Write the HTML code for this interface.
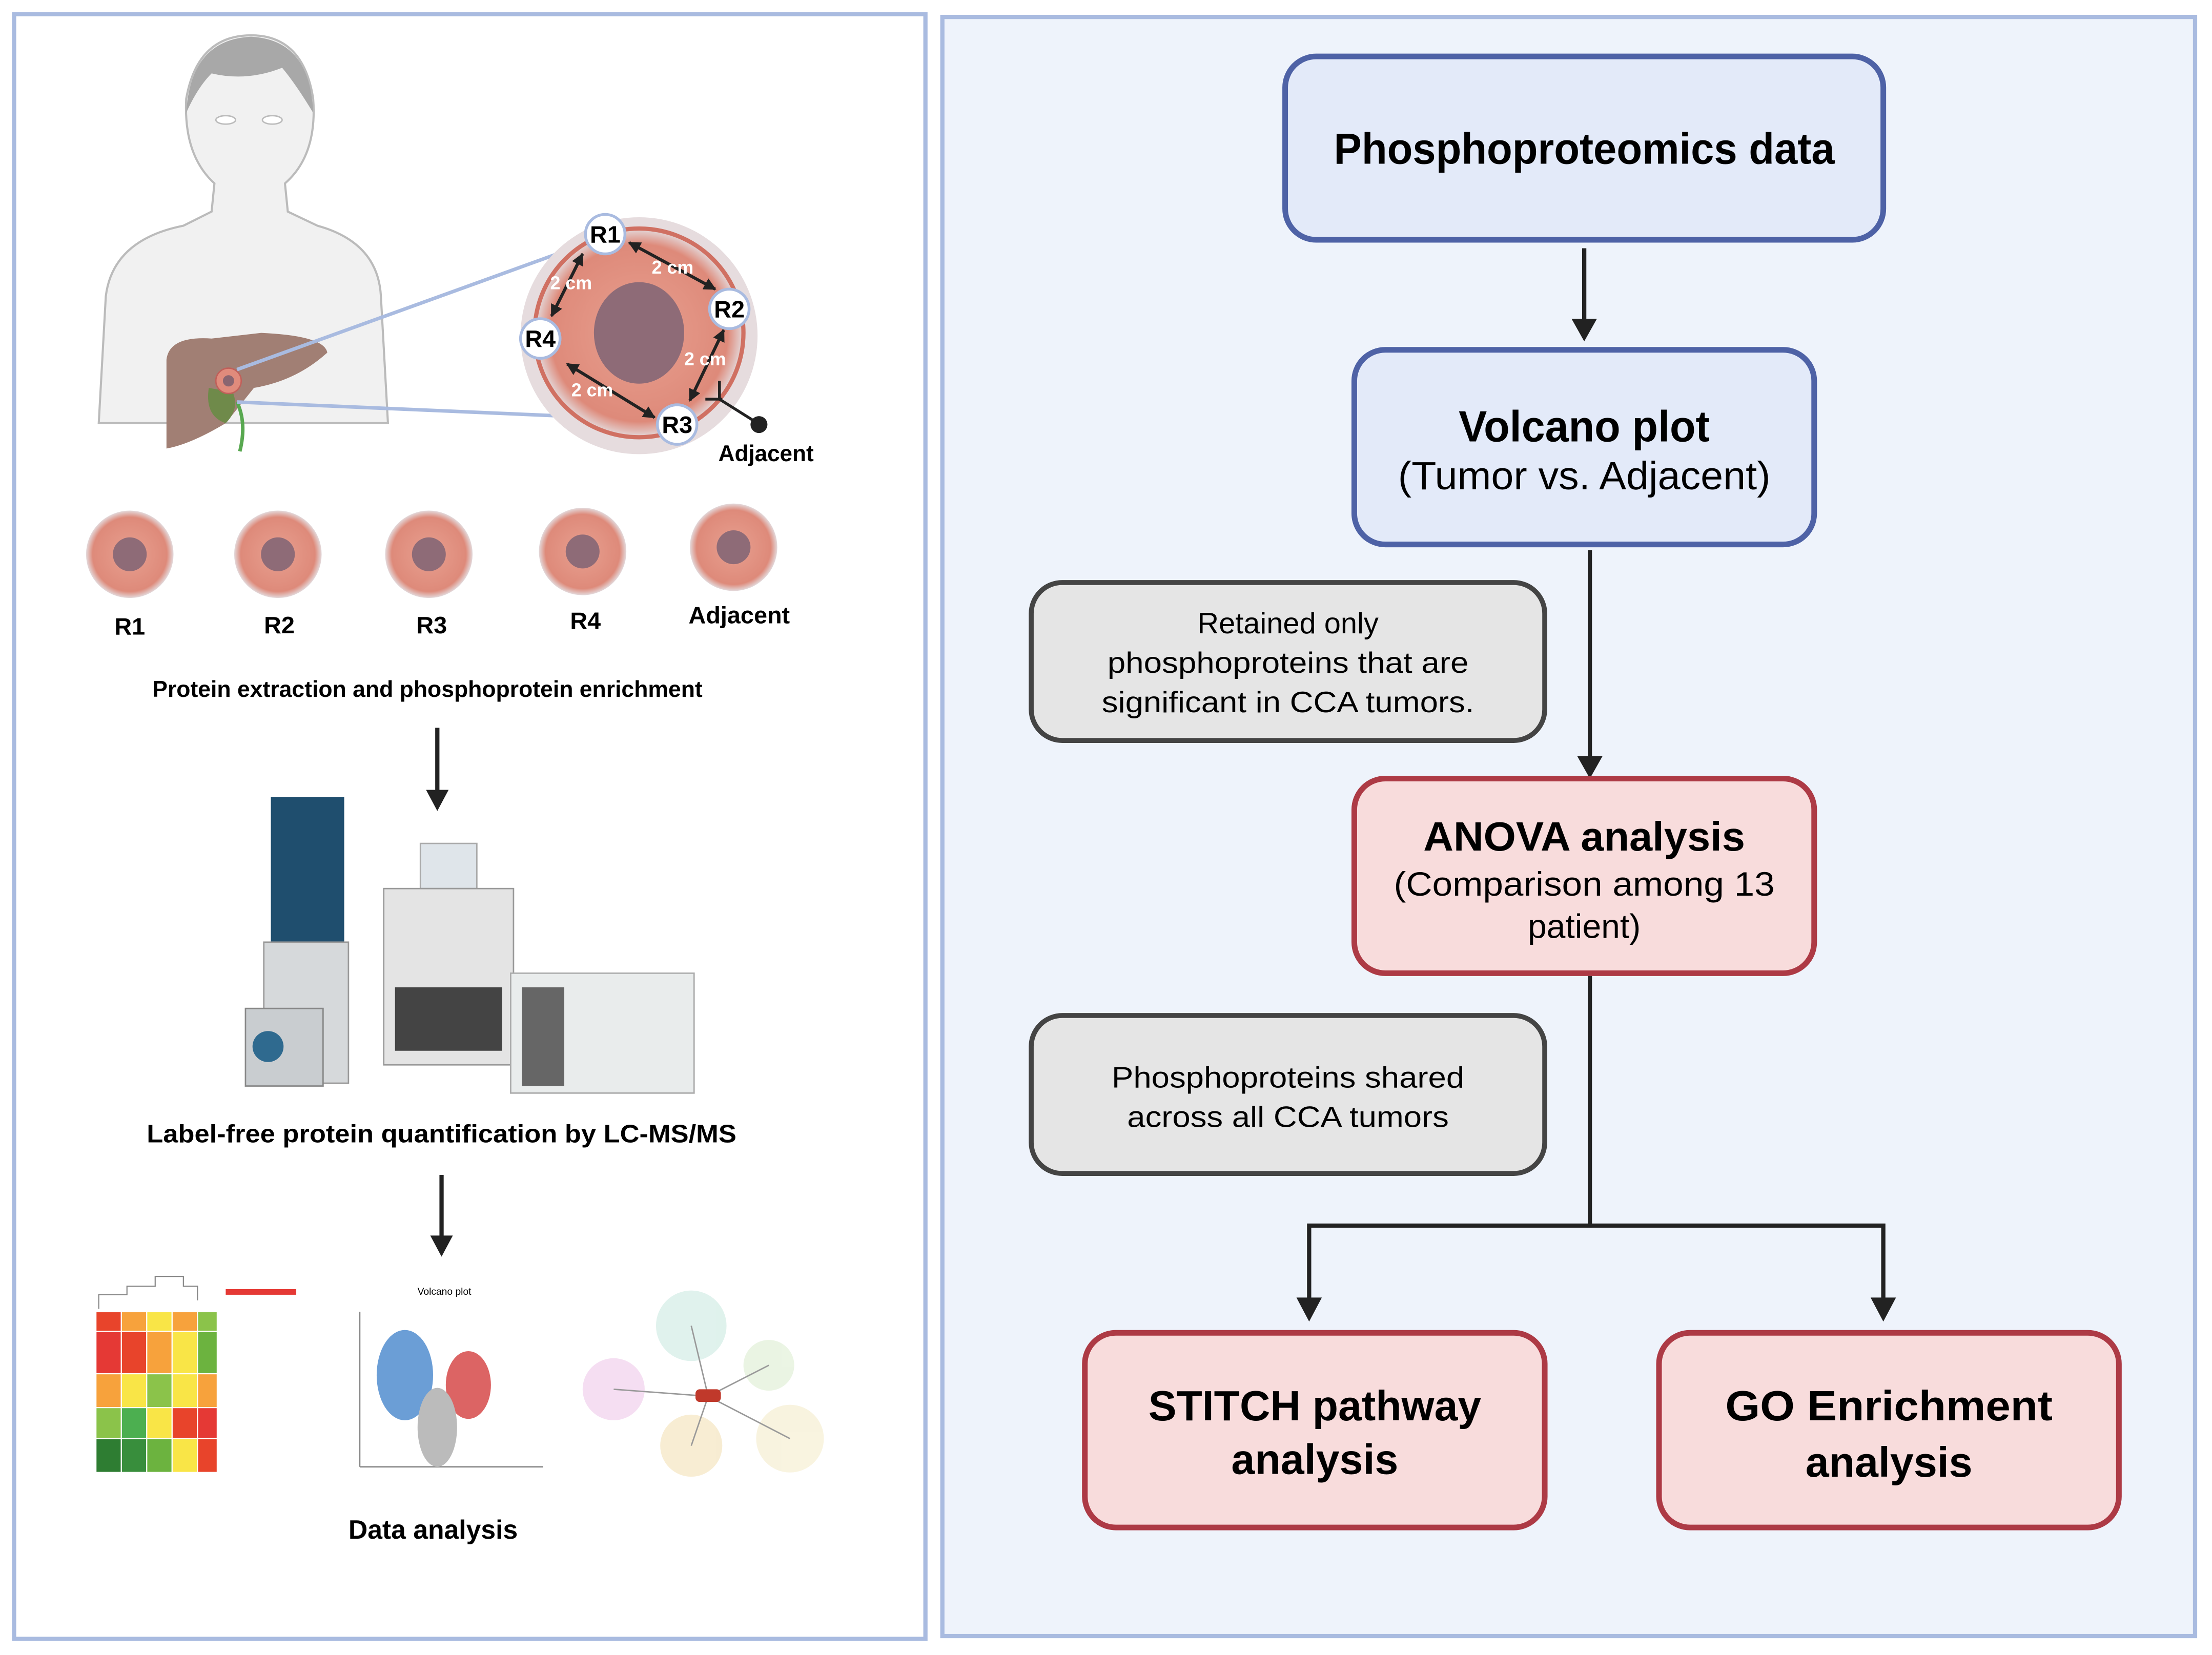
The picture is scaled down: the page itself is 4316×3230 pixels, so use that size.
<!DOCTYPE html>
<html><head><style>html,body{margin:0;padding:0;background:#fff}svg{display:block}</style></head><body>
<svg xmlns="http://www.w3.org/2000/svg" width="4316" height="3230" viewBox="0 0 1568 1173.4" font-family="Liberation Sans, sans-serif">
<defs>
<marker id="ah" viewBox="0 0 10 10" refX="9" refY="5" markerWidth="4" markerHeight="4" orient="auto-start-reverse" markerUnits="strokeWidth"><path d="M0,0 L10,5 L0,10 z" fill="#222"/></marker>
<radialGradient id="tum" cx="50%" cy="50%" r="50%"><stop offset="0" stop-color="#e8a090"/><stop offset="0.85" stop-color="#de8a7a"/><stop offset="1" stop-color="#e3d9db"/></radialGradient>
</defs>
<rect width="1568" height="1173.4" fill="#fff"/>
<rect x="10" y="10" width="646" height="1152" fill="#fff" stroke="#a9bbe0" stroke-width="3"/>
<rect x="668" y="12" width="888" height="1148" fill="#eef3fb" stroke="#a9bbe0" stroke-width="3"/>

<rect x="911" y="40" width="424" height="130" rx="22" fill="#e3eaf9" stroke="#4e62a6" stroke-width="4"/>
<text x="1123" y="116" text-anchor="middle" font-size="31" font-weight="bold" textLength="355" lengthAdjust="spacingAndGlyphs">Phosphoproteomics data</text>
<line x1="1123" y1="176" x2="1123" y2="228" stroke="#222" stroke-width="3"/>
<path d="M1114,226 L1132,226 L1123,242 z" fill="#222"/>
<rect x="960" y="248" width="326" height="138" rx="22" fill="#e3eaf9" stroke="#4e62a6" stroke-width="4"/>
<text x="1123" y="313" text-anchor="middle" font-size="31" font-weight="bold" textLength="178" lengthAdjust="spacingAndGlyphs">Volcano plot</text>
<text x="1123" y="347" text-anchor="middle" font-size="28" textLength="264" lengthAdjust="spacingAndGlyphs">(Tumor vs. Adjacent)</text>
<line x1="1127" y1="390" x2="1127" y2="538" stroke="#222" stroke-width="3"/>
<path d="M1118,536 L1136,536 L1127,552 z" fill="#222"/>
<rect x="731" y="413" width="364" height="112" rx="22" fill="#e5e5e5" stroke="#444" stroke-width="3.5"/>
<text x="913" y="449" text-anchor="middle" font-size="21">Retained only</text>
<text x="913" y="477" text-anchor="middle" font-size="21" textLength="256" lengthAdjust="spacingAndGlyphs">phosphoproteins that are</text>
<text x="913" y="505" text-anchor="middle" font-size="21" textLength="264" lengthAdjust="spacingAndGlyphs">significant in CCA tumors.</text>
<rect x="960" y="552" width="326" height="138" rx="22" fill="#f8dcdc" stroke="#ad3a45" stroke-width="4"/>
<text x="1123" y="603" text-anchor="middle" font-size="29" font-weight="bold" textLength="228" lengthAdjust="spacingAndGlyphs">ANOVA analysis</text>
<text x="1123" y="635" text-anchor="middle" font-size="24" textLength="270" lengthAdjust="spacingAndGlyphs">(Comparison among 13</text>
<text x="1123" y="665" text-anchor="middle" font-size="24">patient)</text>
<rect x="731" y="720" width="364" height="112" rx="22" fill="#e5e5e5" stroke="#444" stroke-width="3.5"/>
<text x="913" y="771" text-anchor="middle" font-size="21" textLength="250" lengthAdjust="spacingAndGlyphs">Phosphoproteins shared</text>
<text x="913" y="799" text-anchor="middle" font-size="21" textLength="228" lengthAdjust="spacingAndGlyphs">across all CCA tumors</text>
<polyline points="1127,692 1127,869 928,869 928,922" fill="none" stroke="#222" stroke-width="3"/>
<polyline points="1127,869 1335,869 1335,922" fill="none" stroke="#222" stroke-width="3"/>
<path d="M919,920 L937,920 L928,937 z" fill="#222"/>
<path d="M1326,920 L1344,920 L1335,937 z" fill="#222"/>
<rect x="769" y="945" width="326" height="138" rx="22" fill="#f8dcdc" stroke="#ad3a45" stroke-width="4"/>
<text x="932" y="1007" text-anchor="middle" font-size="30" font-weight="bold" textLength="236" lengthAdjust="spacingAndGlyphs">STITCH pathway</text>
<text x="932" y="1045" text-anchor="middle" font-size="30" font-weight="bold">analysis</text>
<rect x="1176" y="945" width="326" height="138" rx="22" fill="#f8dcdc" stroke="#ad3a45" stroke-width="4"/>
<text x="1339" y="1007" text-anchor="middle" font-size="30" font-weight="bold" textLength="232" lengthAdjust="spacingAndGlyphs">GO Enrichment</text>
<text x="1339" y="1047" text-anchor="middle" font-size="30" font-weight="bold">analysis</text>

<path d="M70,300 L75,210 Q80,170 130,160 L150,150 L152,130 Q130,110 132,70 Q140,25 178,25 Q215,25 222,70 Q225,110 202,130 L204,150 L225,160 Q268,172 270,210 L275,300 Z" fill="#f1f1f1" stroke="#bbb" stroke-width="1.5"/>
<path d="M132,80 Q135,28 178,26 Q220,28 222,80 Q210,60 200,48 Q175,58 150,52 Q140,62 132,80 Z" fill="#a8a8a8"/>
<ellipse cx="160" cy="85" rx="7" ry="3" fill="#fff" stroke="#bbb"/><ellipse cx="193" cy="85" rx="7" ry="3" fill="#fff" stroke="#bbb"/>
<path d="M118,255 Q120,238 150,240 L185,236 Q230,238 232,250 Q210,270 180,275 L160,300 Q135,315 118,318 Z" fill="#a17f74"/>
<path d="M148,275 Q145,295 160,300 Q170,290 165,278 Z" fill="#6f8a4a"/>
<path d="M168,285 Q175,300 170,320" stroke="#58a850" stroke-width="2.5" fill="none"/>
<circle cx="162" cy="270" r="9" fill="#e08b7c" stroke="#c0605a" stroke-width="1"/><circle cx="162" cy="270" r="4" fill="#8a6570"/>
<line x1="168" y1="262" x2="395" y2="180" stroke="#a9bbe0" stroke-width="2.5"/>
<line x1="168" y1="285" x2="470" y2="298" stroke="#a9bbe0" stroke-width="2.5"/>
<circle cx="453" cy="238" r="84" fill="#e6dcde"/>
<circle cx="453" cy="236" r="74" fill="url(#tum)" stroke="#d07062" stroke-width="3"/>
<ellipse cx="453" cy="236" rx="32" ry="36" fill="#8e6b77"/>
<g stroke="#222" stroke-width="2.2" marker-start="url(#ah)" marker-end="url(#ah)">
<line x1="446" y1="172" x2="507" y2="205"/><line x1="413" y1="180" x2="391" y2="224"/>
<line x1="513" y1="234" x2="489" y2="284"/><line x1="402" y1="258" x2="464" y2="296"/>
</g>
<g font-size="13" font-weight="bold" fill="#fff"><text x="462" y="194">2 cm</text><text x="390" y="205">2 cm</text><text x="485" y="259">2 cm</text><text x="405" y="281">2 cm</text></g>
<g font-size="17" font-weight="bold" text-anchor="middle">
<circle cx="429" cy="166" r="14" fill="#fff" stroke="#a9bbe0" stroke-width="2"/><text x="429" y="172">R1</text>
<circle cx="517" cy="219" r="14" fill="#fff" stroke="#a9bbe0" stroke-width="2"/><text x="517" y="225">R2</text>
<circle cx="383" cy="240" r="14" fill="#fff" stroke="#a9bbe0" stroke-width="2"/><text x="383" y="246">R4</text>
<circle cx="480" cy="301" r="14" fill="#fff" stroke="#a9bbe0" stroke-width="2"/><text x="480" y="307">R3</text>
</g>
<polyline points="510,270 510,283 537,300" fill="none" stroke="#222" stroke-width="2"/>
<line x1="500" y1="283" x2="512" y2="283" stroke="#222" stroke-width="2"/>
<circle cx="538" cy="301" r="6" fill="#222"/>
<text x="543" y="327" text-anchor="middle" font-size="16" font-weight="bold">Adjacent</text>
<g>
<circle cx="92" cy="393" r="31" fill="url(#tum)"/><circle cx="92" cy="393" r="12" fill="#8e6b77"/>
<circle cx="197" cy="393" r="31" fill="url(#tum)"/><circle cx="197" cy="393" r="12" fill="#8e6b77"/>
<circle cx="304" cy="393" r="31" fill="url(#tum)"/><circle cx="304" cy="393" r="12" fill="#8e6b77"/>
<circle cx="413" cy="391" r="31" fill="url(#tum)"/><circle cx="413" cy="391" r="12" fill="#8e6b77"/>
<circle cx="520" cy="388" r="31" fill="url(#tum)"/><circle cx="520" cy="388" r="12" fill="#8e6b77"/>
</g>
<g font-size="17" font-weight="bold" text-anchor="middle">
<text x="92" y="450">R1</text><text x="198" y="449">R2</text><text x="306" y="449">R3</text><text x="415" y="446">R4</text><text x="524" y="442">Adjacent</text>
</g>
<text x="303" y="494" text-anchor="middle" font-size="16" font-weight="bold" textLength="390" lengthAdjust="spacingAndGlyphs">Protein extraction and phosphoprotein enrichment</text>
<line x1="310" y1="516" x2="310" y2="562" stroke="#222" stroke-width="3"/><path d="M302,560 L318,560 L310,575 z" fill="#222"/>
<rect x="192" y="565" width="52" height="105" fill="#1f4e6e"/>
<rect x="187" y="668" width="60" height="100" fill="#d6d9db" stroke="#999"/>
<rect x="174" y="715" width="55" height="55" fill="#c9cdd0" stroke="#888"/>
<circle cx="190" cy="742" r="11" fill="#2f6a8f"/>
<rect x="298" y="598" width="40" height="32" fill="#dfe5ea" stroke="#aaa"/>
<rect x="272" y="630" width="92" height="125" fill="#e4e4e4" stroke="#999"/>
<rect x="280" y="700" width="76" height="45" fill="#444"/>
<rect x="362" y="690" width="130" height="85" fill="#e9ecec" stroke="#aaa"/>
<rect x="370" y="700" width="30" height="70" fill="#666"/>
<text x="313" y="810" text-anchor="middle" font-size="18" font-weight="bold" textLength="418" lengthAdjust="spacingAndGlyphs">Label-free protein quantification by LC-MS/MS</text>
<line x1="313" y1="833" x2="313" y2="878" stroke="#222" stroke-width="3"/><path d="M305,876 L321,876 L313,891 z" fill="#222"/>
<g stroke="#fff" stroke-width="0.8">
<rect x="68" y="930" width="18" height="14" fill="#e8442b"/><rect x="86" y="930" width="18" height="14" fill="#f7a23c"/><rect x="104" y="930" width="18" height="14" fill="#f9e547"/><rect x="122" y="930" width="18" height="14" fill="#f7a23c"/><rect x="140" y="930" width="14" height="14" fill="#8bc34a"/>
<rect x="68" y="944" width="18" height="30" fill="#e53935"/><rect x="86" y="944" width="18" height="30" fill="#e8442b"/><rect x="104" y="944" width="18" height="30" fill="#f7a23c"/><rect x="122" y="944" width="18" height="30" fill="#f9e547"/><rect x="140" y="944" width="14" height="30" fill="#6cb33f"/>
<rect x="68" y="974" width="18" height="24" fill="#f7a23c"/><rect x="86" y="974" width="18" height="24" fill="#f9e547"/><rect x="104" y="974" width="18" height="24" fill="#8bc34a"/><rect x="122" y="974" width="18" height="24" fill="#f9e547"/><rect x="140" y="974" width="14" height="24" fill="#f7a23c"/>
<rect x="68" y="998" width="18" height="22" fill="#8bc34a"/><rect x="86" y="998" width="18" height="22" fill="#4caf50"/><rect x="104" y="998" width="18" height="22" fill="#f9e547"/><rect x="122" y="998" width="18" height="22" fill="#e8442b"/><rect x="140" y="998" width="14" height="22" fill="#e53935"/>
<rect x="68" y="1020" width="18" height="24" fill="#2e7d32"/><rect x="86" y="1020" width="18" height="24" fill="#388e3c"/><rect x="104" y="1020" width="18" height="24" fill="#6cb33f"/><rect x="122" y="1020" width="18" height="24" fill="#f9e547"/><rect x="140" y="1020" width="14" height="24" fill="#e8442b"/>
</g>
<path d="M70,928 V918 H90 V912 H110 V905 H130 V912 H140 V922" fill="none" stroke="#888" stroke-width="0.8"/>
<rect x="160" y="914" width="50" height="4" fill="#e53935"/>
<line x1="255" y1="930" x2="255" y2="1040" stroke="#888"/><line x1="255" y1="1040" x2="385" y2="1040" stroke="#888"/>
<text x="315" y="918" text-anchor="middle" font-size="7">Volcano plot</text>
<ellipse cx="287" cy="975" rx="20" ry="32" fill="#3a7ec8" opacity="0.75"/>
<ellipse cx="332" cy="982" rx="16" ry="24" fill="#d03030" opacity="0.75"/>
<ellipse cx="310" cy="1012" rx="14" ry="28" fill="#bbb"/>
<g opacity="0.8">
<circle cx="490" cy="940" r="25" fill="#d8efe8"/><circle cx="435" cy="985" r="22" fill="#f3d6ef"/><circle cx="545" cy="968" r="18" fill="#e6f2dd"/><circle cx="490" cy="1025" r="22" fill="#f6e8c8"/><circle cx="560" cy="1020" r="24" fill="#f7f1d8"/>
</g>
<g stroke="#999" stroke-width="1"><line x1="502" y1="990" x2="490" y2="940"/><line x1="502" y1="990" x2="435" y2="985"/><line x1="502" y1="990" x2="545" y2="968"/><line x1="502" y1="990" x2="490" y2="1025"/><line x1="502" y1="990" x2="560" y2="1020"/></g>
<rect x="493" y="985" width="18" height="9" rx="3" fill="#c0392b"/>
<text x="307" y="1091" text-anchor="middle" font-size="19" font-weight="bold" textLength="120" lengthAdjust="spacingAndGlyphs">Data analysis</text>
</svg>
</body></html>
